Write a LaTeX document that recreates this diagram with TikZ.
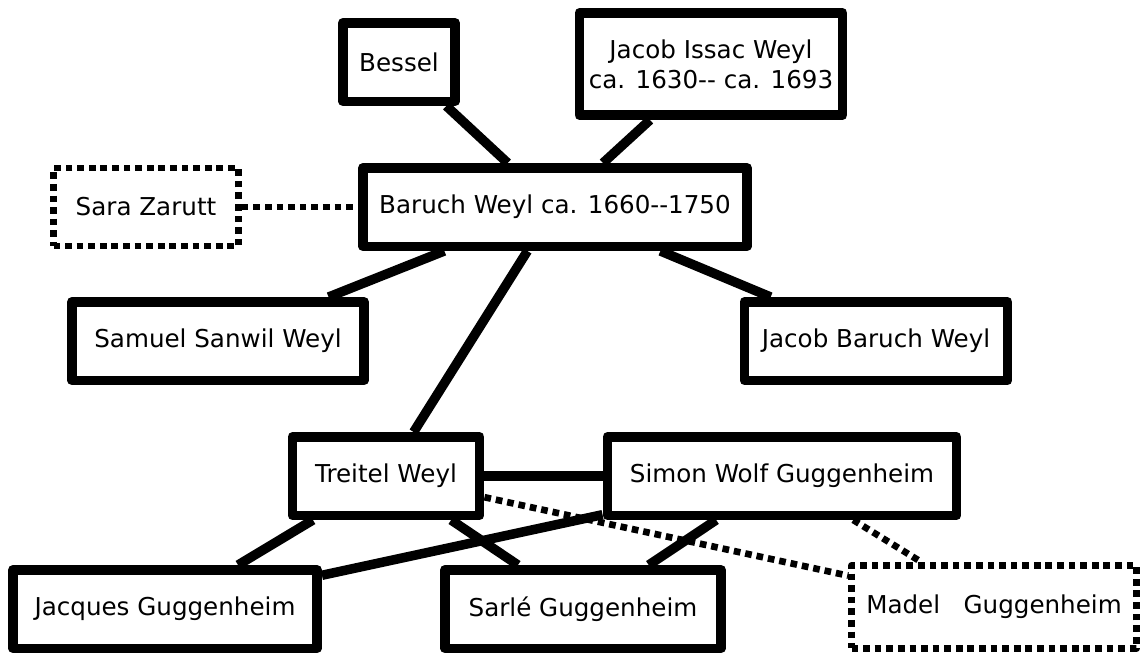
\documentclass[tikz,border=0pt]{standalone}
\usepackage{fontspec}
\setmainfont{DejaVu Sans}
\begin{document}
\begin{tikzpicture}[x=0.02cm,y=-0.02cm,
    persona/.style={draw,line width=5.4pt,line join=round,fill=white,minimum height=1.57cm,
      inner sep=0pt,align=center,font=\fontsize{14}{17}\selectfont},
    dudosa/.style={persona,line width=3.8pt,dash pattern=on 3.8pt off 2.8pt},
    enlace/.style={line width=5.4pt},
    enlacedudoso/.style={line width=3.8pt,dash pattern=on 3.8pt off 2.8pt}]
    \useasboundingbox (0,0) rectangle (1147,656);

    % generaciones mayores
    \node[persona,minimum width=2.25cm] (bessel) at (399,62) {Bessel};
    \node[persona,minimum width=5.27cm,minimum height=2.05cm] (jacobissac) at (711,64)
      {Jacob Issac Weyl\\ca. 1630-{}- ca. 1693};

    % Baruch y su esposa
    \node[persona,minimum width=7.69cm] (baruch) at (555,207) {Baruch Weyl ca. 1660-{}-1750};
    \node[dudosa,minimum width=3.7cm,minimum height=1.56cm] (sara) at (146,207) {Sara Zarutt};

    % hijos
    \node[persona,minimum width=5.85cm] (samuel) at (218,341) {Samuel Sanwil Weyl};
    \node[persona,minimum width=5.27cm] (jacobbaruch) at (876,341) {Jacob Baruch Weyl};
    \node[persona,minimum width=3.75cm] (treitel) at (386,476) {Treitel Weyl};
    \node[persona,minimum width=6.99cm] (simon) at (782,476) {Simon Wolf Guggenheim};

    % nietos
    \node[persona,minimum width=6.09cm] (jacques) at (165,609) {Jacques Guggenheim};
    \node[persona,minimum width=5.53cm] (sarle) at (583,609) {Sarlé Guggenheim};
    \node[dudosa,minimum width=5.7cm,minimum height=1.66cm] (madel) at (994,607) {Madel~~~Guggenheim};

    % enlaces
    \draw[enlace] (bessel) -- (baruch);
    \draw[enlace] (jacobissac) -- (baruch);
    \draw[enlacedudoso] (sara) -- (baruch);
    \draw[enlace] (baruch) -- (samuel);
    \draw[enlace] (baruch) -- (jacobbaruch);
    \draw[enlace] (baruch) -- (treitel);
    \draw[enlace] (treitel) -- (simon);
    \draw[enlace] (treitel) -- (jacques);
    \draw[enlace] (treitel) -- (sarle);
    \draw[enlace] (simon) -- (jacques);
    \draw[enlace] (simon) -- (sarle);
    \draw[enlacedudoso] (treitel) -- (madel);
    \draw[enlacedudoso] (simon) -- (madel);
\end{tikzpicture}
\end{document}
